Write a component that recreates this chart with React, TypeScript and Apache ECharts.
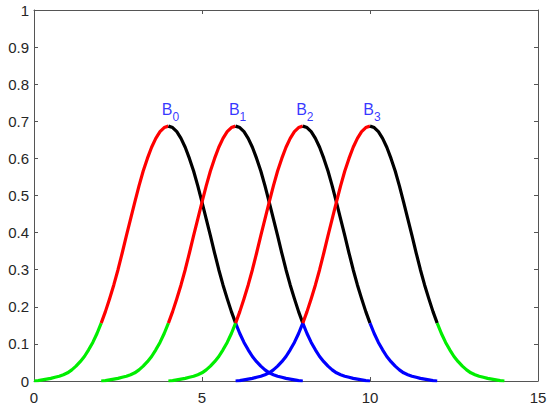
import React, { useEffect, useRef } from "react";
import * as echarts from "echarts";

// Axis ticks
const xMin = 0;
const xMax = 15;
const xInterval = 5;
const yMin = 0;
const yMax = 1;
const yInterval = 0.1;

// Shape of each basis function at steps of 0.125 over its 8-unit support
const sampleStep = 0.125;
const profile = [
  0, 0.001, 0.003, 0.005, 0.007, 0.010, 0.013, 0.017,
  0.022, 0.030, 0.040, 0.052, 0.066, 0.084, 0.104, 0.128,
  0.156, 0.187, 0.222, 0.259, 0.300, 0.345, 0.392, 0.437,
  0.482, 0.526, 0.566, 0.600, 0.630, 0.654, 0.672, 0.683,
  0.687,
  0.683, 0.672, 0.654, 0.630, 0.600, 0.566, 0.526, 0.482,
  0.437, 0.392, 0.345, 0.300, 0.259, 0.222, 0.187, 0.156,
  0.128, 0.104, 0.084, 0.066, 0.052, 0.040, 0.030, 0.022,
  0.017, 0.013, 0.010, 0.007, 0.005, 0.003, 0.001, 0,
];
const pointsPerSegment = 16;

// Curves
const curveNames = ["B0", "B1", "B2", "B3"];
const curveSubs = ["0", "1", "2", "3"];
const curveStarts = [0, 2, 4, 6];
const curvePeaks = [4, 6, 8, 10];
const labelY = [0.725, 0.725, 0.725, 0.725];
const segmentColors = [
  ["#00ee00", "#ff0000", "#000000", "#0000ff"],
  ["#00ee00", "#ff0000", "#000000", "#0000ff"],
  ["#00ee00", "#ff0000", "#000000", "#0000ff"],
  ["#0000ff", "#ff0000", "#000000", "#00ee00"],
];

const FONT = "'Liberation Sans', Arial, Helvetica, sans-serif";
const LABEL_COLOR = "#262626";
const AXIS_COLOR = "#555555";

export default function App() {
  const ref = useRef<HTMLDivElement>(null);

  useEffect(() => {
    if (!ref.current) return;
    const chart = echarts.init(ref.current, null, { renderer: "svg" });

    const series: any[] = [];
    curveNames.forEach((name, c) => {
      for (let s = 0; s < 4; s++) {
        const data: number[][] = [];
        for (let i = s * pointsPerSegment; i <= (s + 1) * pointsPerSegment; i++) {
          data.push([curveStarts[c] + i * sampleStep, profile[i]]);
        }
        series.push({
          type: "line",
          name: `${name}-${s}`,
          data,
          smooth: false,
          showSymbol: false,
          symbol: "none",
          lineStyle: { color: segmentColors[c][s], width: 3.2, cap: "butt", join: "round" },
          xAxisIndex: 0,
          yAxisIndex: 0,
        });
      }
    });

    series.push({
      type: "scatter",
      name: "labels",
      symbolSize: 0,
      xAxisIndex: 0,
      yAxisIndex: 0,
      data: curveNames.map((n, c) => ({ value: [curvePeaks[c], labelY[c]], sub: curveSubs[c] })),
      label: {
        show: true,
        position: "inside",
        offset: [2, 0],
        formatter: (p: any) => `{b|B}{s|${p.data.sub}}`,
        rich: {
          b: { fontSize: 16, color: "#0000ff", fontFamily: FONT, lineHeight: 22, verticalAlign: "top" },
          s: { fontSize: 12, color: "#0000ff", fontFamily: FONT, lineHeight: 12, verticalAlign: "bottom" },
        },
      },
    });

    const baseAxis = {
      axisLine: { show: true, onZero: false, lineStyle: { color: AXIS_COLOR, width: 1 } },
      axisTick: { show: true, inside: true, length: 4, lineStyle: { color: AXIS_COLOR } },
      splitLine: { show: false },
    };

    chart.setOption({
      animation: false,
      grid: { left: 34, right: 12, top: 10, bottom: 28, containLabel: false },
      xAxis: [
        {
          ...baseAxis,
          type: "value",
          min: xMin,
          max: xMax,
          interval: xInterval,
          position: "bottom",
          axisLabel: { color: LABEL_COLOR, fontSize: 15, fontFamily: FONT, margin: 9 },
        },
        {
          ...baseAxis,
          type: "value",
          min: xMin,
          max: xMax,
          interval: xInterval,
          position: "top",
          axisLabel: { show: false },
        },
      ],
      yAxis: [
        {
          ...baseAxis,
          type: "value",
          min: yMin,
          max: yMax,
          interval: yInterval,
          position: "left",
          axisLabel: {
            color: LABEL_COLOR,
            fontSize: 15,
            fontFamily: FONT,
            margin: 5,
            formatter: (v: number) => String(Math.round(v * 10) / 10),
          },
        },
        {
          ...baseAxis,
          type: "value",
          min: yMin,
          max: yMax,
          interval: yInterval,
          position: "right",
          axisLabel: { show: false },
        },
      ],
      series,
    });

    return () => chart.dispose();
  }, []);

  return <div ref={ref} style={{ width: 550, height: 409, position: "absolute", left: 0, top: 0, background: "#fff" }} />;
}
